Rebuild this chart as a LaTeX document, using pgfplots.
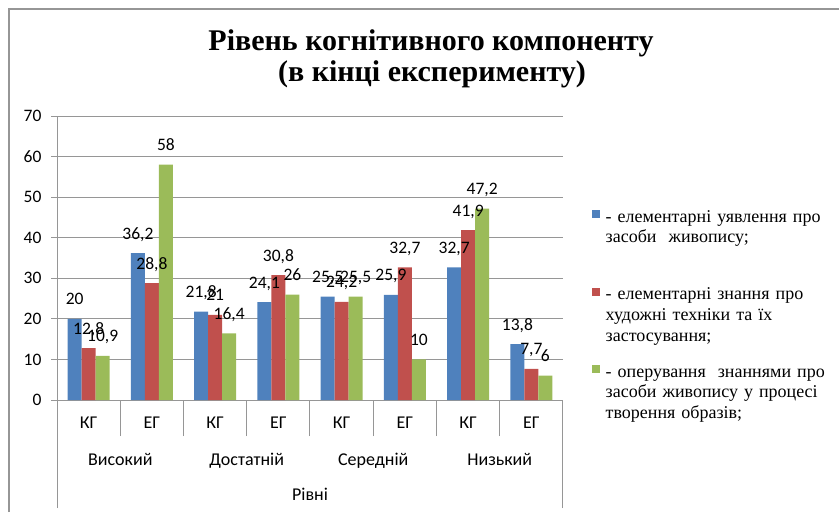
\documentclass[border=0pt]{standalone}
\usepackage{fontspec}
\setmainfont{Carlito}
\newfontfamily\timesfont{Liberation Serif}
\usepackage{pgfplots}
\pgfplotsset{compat=1.18}
\definecolor{sblue}{HTML}{4F81BD}
\definecolor{sred}{HTML}{C0504D}
\definecolor{sgreen}{HTML}{9BBB59}
\definecolor{axgray}{HTML}{969696}
\newcommand{\lblfont}{\fontsize{17.5}{20}\selectfont}
\newcommand{\catfont}{\fontsize{18}{20}\selectfont}
\newcommand{\legfont}{\timesfont\fontsize{18}{20.7}\selectfont}
\begin{document}
\begin{tikzpicture}
\begin{axis}[
  at={(57pt,-400pt)}, anchor=south west,
  scale only axis, width=506pt, height=284pt,
  ybar=0pt, bar width=14pt,
  xmin=-0.5, xmax=7.5, ymin=0, ymax=70,
  axis x line*=bottom, axis y line*=left,
  axis line style={axgray, line width=1pt, -},
  ytick={0,10,...,70},
  ymajorgrids, grid style={axgray, line width=1pt},
  tick align=outside,
  major tick length=6pt,
  ytick style={axgray, line width=1pt},
  xtick={0.5,2.5,4.5,6.5},
  extra x ticks={1.5,3.5,5.5},
  extra x tick style={major tick length=72pt, grid=none},
  extra x tick labels={},
  minor xtick={-0.5,7.5},
  minor tick length=108pt,
  xtick style={axgray, line width=1pt, /pgfplots/major tick length=36pt},
  xticklabels={},
  yticklabel style={font=\lblfont, text=black, xshift=-6pt},
  /pgf/number format/assume math mode=true,
  /pgf/number format/.cd, use comma, fixed, precision=1, /pgfplots/.cd,
  nodes near coords,
  nodes near coords align={anchor=base},
  every node near coord/.append style={font=\lblfont, text=black, yshift=14pt, inner sep=0pt},
  legend style={draw=none, fill=none, at={(1.0573,0.678)}, anchor=north west,
    row sep=61.5pt, column sep=5.5pt, inner sep=0pt,
    nodes={inner sep=0pt, text width=235pt, align=left, font=\legfont}},
  legend cell align=left,
  legend style={cells={anchor=base west}},
  legend image code/.code={\fill[#1] (0pt,4pt) rectangle (8pt,12pt);},
  clip=false,
]
\addplot[fill=sblue, draw=none] coordinates {(0,20) (1,36.2) (2,21.8) (3,24.1) (4,25.5) (5,25.9) (6,32.7) (7,13.8)};
\addlegendentry{\strut - елементарні уявлення про\\\strut засоби\ \ живопису;}
\addplot[fill=sred, draw=none] coordinates {(0,12.8) (1,28.8) (2,21) (3,30.8) (4,24.2) (5,32.7) (6,41.9) (7,7.7)};
\addlegendentry{\strut - елементарні знання про\\\strut художні техніки та їх\\\strut застосування;}
\addplot[fill=sgreen, draw=none] coordinates {(0,10.9) (1,58) (2,16.4) (3,26) (4,25.5) (5,10) (6,47.2) (7,6)};
\addlegendentry{\strut - оперування\ \ знаннями про\\\strut засоби живопису у процесі\\\strut творення образів;}
\end{axis}
% outer frame
\draw[axgray, line width=1.5pt] (9pt,-512pt) -- (9pt,-9pt) -- (839pt,-9pt);
% title
\node[anchor=base, font=\timesfont\bfseries\fontsize{30}{31}\selectfont] at (431pt,-50pt) {Рівень когнітивного компоненту};
\node[anchor=base, font=\timesfont\bfseries\fontsize{30}{31}\selectfont] at (432pt,-81pt) {(в кінці експерименту)};
% category labels
\foreach \k/\t in {0/КГ,1/ЕГ,2/КГ,3/ЕГ,4/КГ,5/ЕГ,6/КГ,7/ЕГ}{
  \pgfmathsetmacro\cx{57+63.25*(\k+0.5)}
  \node[anchor=base, font=\catfont] at (\cx pt,-428.5pt) {\t};
}
\foreach \k/\t in {0/Високий,1/Достатній,2/Середній,3/Низький}{
  \pgfmathsetmacro\cx{57+63.25*(2*\k+1)}
  \node[anchor=base, font=\catfont] at (\cx pt,-465pt) {\t};
}
\node[anchor=base, font=\catfont] at (310pt,-500pt) {Рівні};
\pgfresetboundingbox
\path[use as bounding box] (0pt,0pt) rectangle (839pt,-512pt);
\end{tikzpicture}
\end{document}
